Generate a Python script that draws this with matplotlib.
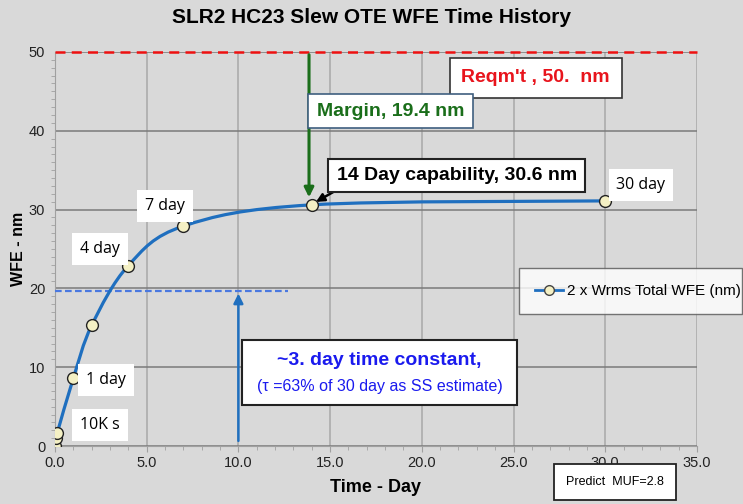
import numpy as np
import matplotlib
matplotlib.use('Agg')
import matplotlib.pyplot as plt
from matplotlib.path import Path
from matplotlib.patches import PathPatch, Rectangle
from matplotlib.ticker import MultipleLocator, FormatStrFormatter

# data
time_day = [0.0, 0.05, 0.116, 1.0, 2.0, 4.0, 7.0, 14.0, 30.0]
wfe_nm = [0.0, 1.0, 1.6, 8.6, 15.3, 22.9, 27.9, 30.6, 31.1]
req_nm = 50.0
tau_level = 19.7
tau_day = 10.0
point_labels = ['10K s', '1 day', '4 day', '7 day', '30 day']
label_pos = [(2.45, 2.7), (2.8, 8.4), (2.45, 25.0), (6.0, 30.5), (31.95, 33.1)]

plt.rcParams['font.family'] = ['Liberation Sans', 'DejaVu Sans']

BG = '#d9d9d9'
LINE = '#1f6fbf'

fig = plt.figure(figsize=(7.43, 5.04), dpi=100, facecolor=BG)
ax = fig.add_axes([0.074, 0.115, 0.864, 0.782], facecolor=BG)

# smoothed curve (Excel-style Catmull-Rom via bezier path)
pts = np.column_stack([time_day, wfe_nm])
verts = [tuple(pts[0])]
codes = [Path.MOVETO]
n = len(pts)
for i in range(n - 1):
    p0 = pts[max(i - 1, 0)]
    p1 = pts[i]
    p2 = pts[i + 1]
    p3 = pts[min(i + 2, n - 1)]
    c1 = p1 + (p2 - p0) / 6.0
    c2 = p2 - (p3 - p1) / 6.0
    verts += [tuple(c1), tuple(c2), tuple(p2)]
    codes += [Path.CURVE4] * 3
ax.add_patch(PathPatch(Path(verts, codes), fill=False, edgecolor=LINE, lw=2.3, zorder=4))
ax.plot(time_day, wfe_nm, ls='none', marker='o', ms=8.5, mfc='#f4f0c4', mec='#222222',
        mew=1.0, zorder=5)

# requirement line
ax.axhline(req_nm, color='#ee1111', ls=(0, (4, 2.5)), lw=1.8, zorder=3, clip_on=False)

# tau level and arrow
ax.plot([0, 12.7], [tau_level, tau_level], color='#4a78e0', ls=(0, (3, 1.5)), lw=1.6, zorder=3)
ax.annotate('', xy=(tau_day, tau_level), xytext=(tau_day, 0.3),
            arrowprops=dict(arrowstyle='-|>', color=LINE, lw=1.8, mutation_scale=14), zorder=3)

# margin arrow
ax.annotate('', xy=(13.85, wfe_nm[7] + 0.6), xytext=(13.85, req_nm),
            arrowprops=dict(arrowstyle='-|>', color='#1a6e1a', lw=2.2, mutation_scale=14), zorder=3)

# 14 day capability arrow
ax.annotate('', xy=(14.1, wfe_nm[7] + 0.2), xytext=(15.3, 32.4),
            arrowprops=dict(arrowstyle='-|>', color='black', lw=1.8, mutation_scale=12), zorder=6)

ax.text(26.2, 46.7, "Reqm't , 50.  nm", color='#e8141c', fontsize=14, fontweight='bold',
        ha='center', va='center', bbox=dict(boxstyle='square,pad=0.6', fc='white', ec='#333333', lw=1.2), zorder=7)
ax.text(18.3, 42.5, 'Margin, 19.4 nm', color='#1a6e1a', fontsize=14, fontweight='bold',
        ha='center', va='center', bbox=dict(boxstyle='square,pad=0.45', fc='white', ec='#3f5f7f', lw=1.2), zorder=7)
ax.text(21.9, 34.3, '14 Day capability, 30.6 nm', color='black', fontsize=14, fontweight='bold',
        ha='center', va='center', bbox=dict(boxstyle='square,pad=0.42', fc='white', ec='#222222', lw=1.5), zorder=7)

# time constant box
ax.add_patch(Rectangle((10.2, 5.2), 15.0, 8.25, fc='white', ec='#222222', lw=1.5, zorder=7))
ax.text(17.7, 10.9, '~3. day time constant,', color='#1a1aee', fontsize=14, fontweight='bold',
        ha='center', va='center', zorder=8)
ax.text(17.7, 7.6, '(\u03c4 =63% of 30 day as SS estimate)', color='#1a1aee', fontsize=11.5,
        ha='center', va='center', zorder=8)

for lab, (lx, ly) in zip(point_labels, label_pos):
    ax.text(lx, ly, lab, fontsize=11.5, family=['Open Sans', 'DejaVu Sans'], ha='center', va='center',
            bbox=dict(boxstyle='square,pad=0.5', fc='white', ec='none'), zorder=7)

ax.set_xlim(0, 35)
ax.set_ylim(0, 50)
ax.xaxis.set_major_locator(MultipleLocator(5))
ax.xaxis.set_minor_locator(MultipleLocator(1))
ax.yaxis.set_major_locator(MultipleLocator(10))
ax.yaxis.set_minor_locator(MultipleLocator(1))
ax.xaxis.set_major_formatter(FormatStrFormatter('%.1f'))
ax.grid(axis='x', which='major', color='#a8a8a8', lw=1.1)
ax.grid(axis='y', which='major', color='#7a7a7a', lw=1.1)
ax.set_axisbelow(True)
for s in ['top', 'right']:
    ax.spines[s].set_visible(False)
for s in ['left', 'bottom']:
    ax.spines[s].set_color('#a0a0a0')
ax.tick_params(which='both', colors='#a0a0a0', labelcolor='#222222', labelsize=10.5)
ax.tick_params(which='major', length=4)
ax.tick_params(which='minor', length=3)
ax.tick_params(axis='y', which='major', length=0, pad=7)
ax.set_xlabel('Time - Day', fontsize=13, fontweight='bold', labelpad=6)
ax.set_ylabel('WFE - nm', fontsize=11.5, fontweight='bold')
ax.yaxis.set_label_coords(-0.045, 0.5)

fig.suptitle('SLR2 HC23 Slew OTE WFE Time History', fontsize=15, fontweight='bold', y=0.985)

# legend box
leg = ax.legend([plt.Line2D([], [], color=LINE, lw=2, marker='o', ms=7, mfc='#f4f0c4', mec='#444444')],
                ['2 x Wrms Total WFE (nm)'], loc='center', bbox_to_anchor=(0.723, 0.333, 0.347, 0.12),
                mode='expand', fontsize=11, frameon=True, fancybox=False, handlelength=1.8,
                borderpad=1.05, handletextpad=0.3, borderaxespad=0)
leg.get_frame().set_edgecolor('#555555')
leg.get_frame().set_linewidth(1.0)
leg.set_zorder(9)

fig.text(0.762, 0.043, 'Predict  MUF=2.8', fontsize=9, ha='left', va='center',
         bbox=dict(boxstyle='square,pad=0.95', fc='white', ec='#222222', lw=1.3))

fig.savefig('out.png', dpi=100, facecolor=BG)
